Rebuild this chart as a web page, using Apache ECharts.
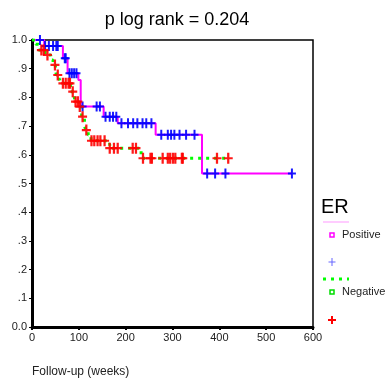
<!DOCTYPE html>
<html>
<head>
<meta charset="utf-8">
<script src="https://cdn.jsdelivr.net/npm/echarts@6/dist/echarts.min.js"></script>
<style>
  html, body { margin: 0; padding: 0; background: #fff; }
  #main { width: 385px; height: 381px; }
</style>
</head>
<body>
<div id="main"></div>
<script>
  // ER positive: step events [weeks, survival]
  const posTimes = [0, 26, 66, 76, 99, 104, 153, 183, 264, 363, 555]
  const posSurv = [1.0, 0.979, 0.936, 0.884, 0.861, 0.768, 0.733, 0.71, 0.67, 0.535, 0.535]
  const posCensor = [17, 28, 36, 45, 52, 55, 70, 72, 80, 85, 90, 95, 108, 138, 145, 157, 166, 173, 180,
    191, 205, 216, 225, 236, 244, 255, 276, 290, 297, 304, 315, 329, 347, 374, 391, 413, 555]

  // ER negative
  const negTimes = [0, 8, 14, 28, 40, 45, 50, 52, 58, 62, 82, 90, 92, 100, 106, 112, 115, 120, 126, 160, 166, 233, 419]
  const negSurv = [1.0, 0.985, 0.965, 0.948, 0.93, 0.913, 0.897, 0.878, 0.865, 0.849, 0.82, 0.803, 0.785, 0.768,
    0.733, 0.70, 0.686, 0.669, 0.649, 0.637, 0.623, 0.588, 0.588]
  const negCensor = [20, 25, 33, 49, 55, 66, 72, 78, 81, 87, 93, 98, 102, 108, 116, 127, 133, 140, 146, 155,
    166, 175, 183, 215, 222, 237, 253, 256, 279, 290, 295, 301, 306, 320, 322, 395, 419]

  const yTicks = ['0.0', '.1', '.2', '.3', '.4', '.5', '.6', '.7', '.8', '.9', '1.0']

  // survival value at time t from the step arrays
  function survAt(times, surv, t) {
    let s = surv[0]
    for (let i = 0; i < times.length; i++) {
      if (times[i] <= t) s = surv[i]
    }
    return s
  }

  const plus = 'path://M3,0 h2 v4 h3 v2 h-3 v4 h-2 v-4 h-3 v-2 h3 z'

  // small plus sign for the legend, made of two rects
  function legendPlus(cx, cy, color, w, h, t) {
    return [
      { type: 'rect', shape: { x: cx - w / 2, y: cy - t / 2, width: w, height: t }, style: { fill: color } },
      { type: 'rect', shape: { x: cx - t / 2, y: cy - h / 2, width: t, height: h }, style: { fill: color } }
    ]
  }

  const chart = echarts.init(document.getElementById('main'))
  const option = {
    animation: false,
    textStyle: { fontFamily: 'Liberation Sans, Arial, sans-serif' },
    title: {
      text: 'p log rank = 0.204',
      left: 172,
      textAlign: 'center',
      top: 6,
      textStyle: { fontSize: 18, fontWeight: 'normal', color: '#000' }
    },
    grid: {
      left: 32, right: 72, top: 40, bottom: 54,
      show: true, borderColor: '#000', borderWidth: 1.5
    },
    xAxis: {
      type: 'value', min: 0, max: 600, interval: 100,
      axisLine: { lineStyle: { color: '#000', width: 3 } },
      axisTick: { length: 3, lineStyle: { color: '#000', width: 2 } },
      axisLabel: { color: '#222', fontSize: 11, margin: 5 },
      splitLine: { show: false }
    },
    yAxis: {
      type: 'value', min: 0, max: 1, interval: 0.1,
      axisLine: { show: true, lineStyle: { color: '#000', width: 3 } },
      axisTick: { show: true, length: 3, lineStyle: { color: '#000', width: 1 } },
      axisLabel: {
        color: '#222', fontSize: 11, margin: 5,
        formatter: v => yTicks[Math.round(v * 10)]
      },
      splitLine: { show: false }
    },
    series: [
      {
        type: 'line', step: 'end', symbol: 'none',
        data: posTimes.map((t, i) => [t, posSurv[i]]),
        lineStyle: { color: '#ff00ff', width: 2 },
        z: 2
      },
      {
        type: 'line', step: 'end', symbol: 'none',
        data: negTimes.map((t, i) => [t, negSurv[i]]),
        lineStyle: { color: '#00ff00', width: 3, type: [3, 5], cap: 'butt' },
        z: 2
      },
      {
        type: 'scatter', symbol: plus, symbolSize: [8, 10],
        data: posCensor.map(t => [t, survAt(posTimes, posSurv, t)]),
        itemStyle: { color: '#0000ff', opacity: 0.9 },
        z: 3
      },
      {
        type: 'scatter', symbol: plus, symbolSize: [9, 11],
        data: negCensor.map(t => [t, survAt(negTimes, negSurv, t)]),
        itemStyle: { color: '#ff0000', opacity: 0.9 },
        z: 3
      }
    ],
    graphic: [
      { type: 'text', x: 321, y: 197, style: { text: 'ER', font: '20px Liberation Sans', fill: '#000' } },
      { type: 'line', shape: { x1: 323, y1: 222, x2: 349, y2: 222 }, style: { stroke: '#ff99ff', lineWidth: 1 } },
      { type: 'rect', shape: { x: 330, y: 233, width: 4, height: 4 }, style: { fill: '#fff', stroke: '#ff00ff', lineWidth: 1.5 } },
      { type: 'text', x: 342, y: 229, style: { text: 'Positive', font: '11px Liberation Sans', fill: '#222' } },
      ...legendPlus(332, 262, '#6666ff', 7, 8, 1),
      { type: 'line', shape: { x1: 323, y1: 279, x2: 349, y2: 279 }, style: { stroke: '#00ff00', lineWidth: 3, lineDash: [3, 5] } },
      { type: 'rect', shape: { x: 330, y: 290, width: 4, height: 4 }, style: { fill: '#fff', stroke: '#00dd00', lineWidth: 1.5 } },
      { type: 'text', x: 342, y: 286, style: { text: 'Negative', font: '11px Liberation Sans', fill: '#222' } },
      ...legendPlus(332, 320, '#ff0000', 8, 8, 2),
      { type: 'text', x: 32, y: 366, style: { text: 'Follow-up (weeks)', font: '12px Liberation Sans', fill: '#222' } }
    ]
  }
  chart.setOption(option)
</script>
</body>
</html>
